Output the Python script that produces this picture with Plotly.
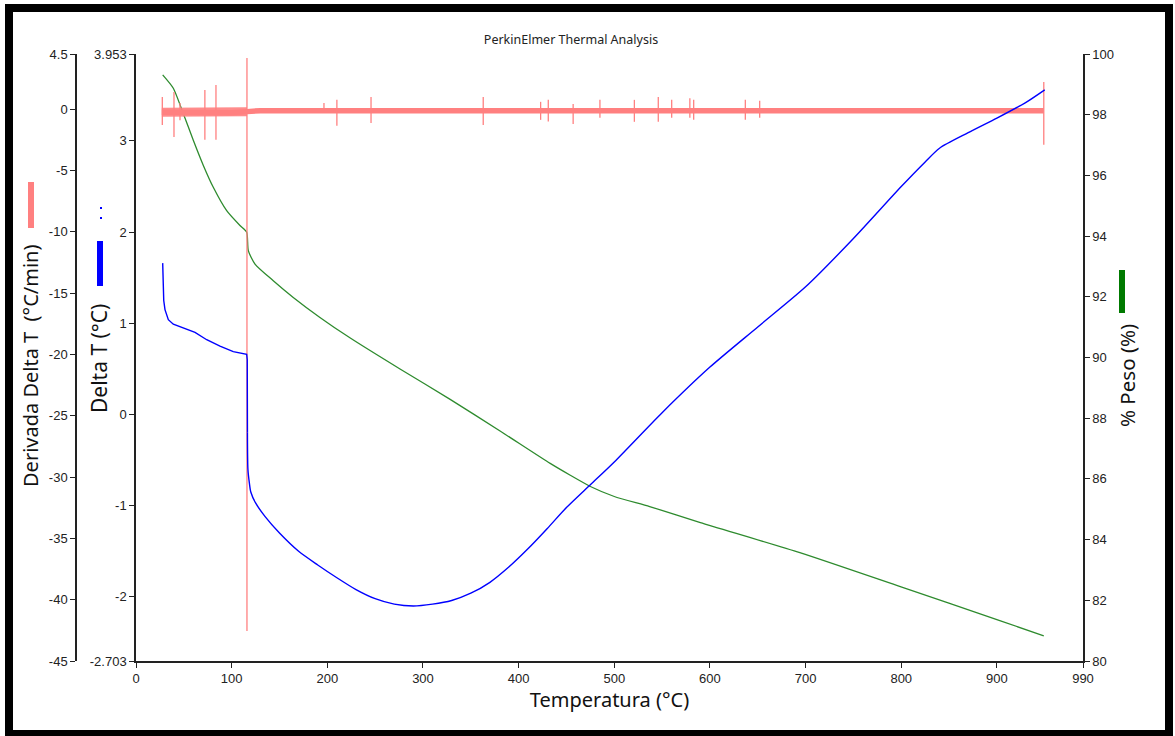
import plotly.graph_objects as go

# ---------------- data ----------------
# Delta T (°C) vs temperature
dt_temp = [27.9, 28.2, 29.0, 30.3, 33.8, 39.0, 49.4, 61.7, 73.9, 87.8, 101.7, 110.4, 115.7,
           116.3, 116.5, 117.0, 118.5, 120, 125, 135, 150, 170, 190, 210, 230, 250, 270,
           290, 310, 330, 350, 370, 390, 410, 430, 450, 475, 500, 550, 600, 650, 700,
           750, 800, 825, 840, 870, 900, 930, 950]
dt_val = [1.66, 1.40, 1.25, 1.15, 1.04, 0.99, 0.95, 0.90, 0.82, 0.75, 0.69, 0.67, 0.66,
          0.60, -0.20, -0.60, -0.75, -0.85, -0.97, -1.12, -1.30, -1.50, -1.65, -1.79, -1.92,
          -2.02, -2.08, -2.10, -2.08, -2.04, -1.96, -1.84, -1.67, -1.47, -1.25, -1.02,
          -0.77, -0.52, 0.02, 0.52, 0.96, 1.40, 1.93, 2.50, 2.77, 2.92, 3.09, 3.25, 3.42, 3.56]

# % Peso vs temperature
peso_temp = [27.9, 39.0, 49.4, 59.9, 70.4, 80.8, 94.8, 108.7, 115.7, 117.4, 124.4, 143.5,
             164.4, 192.3, 224, 276, 328, 381, 433, 454, 475, 500, 537, 590, 694, 799, 903,
             949]
peso_val = [99.31, 98.87, 98.04, 97.16, 96.33, 95.61, 94.84, 94.35, 94.13, 93.52, 93.08,
            92.53, 91.98, 91.32, 90.64, 89.62, 88.63, 87.57, 86.51, 86.12, 85.75, 85.42,
            85.09, 84.56, 83.57, 82.45, 81.33, 80.83]

# Derivada Delta T (°C/min): noisy baseline band + spikes
deriv_band_temp = [27, 60, 100, 116, 130, 949]
deriv_band_val = [-0.25, -0.30, -0.30, -0.20, -0.12, -0.12]
deriv_band_early_temp = [27, 60, 100, 116]
deriv_band_early_val = [-0.26, -0.30, -0.28, -0.20]

spike_temp = [27.5, 39.7, 46, 72, 83.6, 116, 196.5, 210, 245.7, 363, 423, 431, 457, 485,
              521, 546, 560, 579, 583, 637, 652, 949]
spike_hi = [1.0, 1.41, 0.5, 1.57, 1.98, 4.18, 0.5, 0.76, 1.0, 1.0, 0.6, 0.76, 0.43, 0.76,
            0.76, 1.0, 0.76, 0.9, 0.76, 0.76, 0.68, 2.22]
spike_lo = [-1.28, -2.26, -0.9, -2.5, -2.5, -42.55, -0.2, -1.36, -1.12, -1.28, -0.87, -1.0,
            -1.2, -0.7, -1.03, -1.03, -0.7, -0.7, -0.87, -0.87, -0.7, -2.9]

x_ticks = [0, 100, 200, 300, 400, 500, 600, 700, 800, 900, 990]
deriv_ticks = [4.5, 0, -5, -10, -15, -20, -25, -30, -35, -40, -45]
dt_ticks = [3.953, 3, 2, 1, 0, -1, -2, -2.703]
peso_ticks = [100, 98, 96, 94, 92, 90, 88, 86, 84, 82, 80]

# ---------------- figure ----------------
RED = "#FF8080"
BLUE = "#0000FF"
GREEN = "#2E8B2E"

fig = go.Figure()

fig.add_trace(go.Scatter(x=peso_temp, y=peso_val, mode="lines", yaxis="y",
                         line=dict(color=GREEN, width=1.3, shape="spline", smoothing=0.6),
                         name="% Peso"))

fig.add_trace(go.Scatter(x=deriv_band_early_temp, y=deriv_band_early_val, mode="lines",
                         yaxis="y2", line=dict(color=RED, width=9), opacity=0.9,
                         name="Derivada"))
fig.add_trace(go.Scatter(x=deriv_band_temp, y=deriv_band_val, mode="lines", yaxis="y2",
                         line=dict(color=RED, width=5.5), name="Derivada"))
sx, sy = [], []
for t, hi, lo in zip(spike_temp, spike_hi, spike_lo):
    sx += [t, t, None]
    sy += [hi, lo, None]
fig.add_trace(go.Scatter(x=sx, y=sy, mode="lines", yaxis="y2",
                         line=dict(color=RED, width=1.3), connectgaps=False, name="Derivada"))

# Delta T: the part before the step is drawn straight, the part after smoothed
split = dt_temp.index(116.5)
fig.add_trace(go.Scatter(x=dt_temp[:split + 1], y=dt_val[:split + 1], mode="lines",
                         yaxis="y3", line=dict(color=BLUE, width=1.4), name="Delta T"))
fig.add_trace(go.Scatter(x=dt_temp[split:], y=dt_val[split:], mode="lines", yaxis="y3",
                         line=dict(color=BLUE, width=1.4, shape="spline", smoothing=0.7),
                         name="Delta T"))

W, H = 1175, 736
ML, MR, MT, MB = 76, 92, 54, 75
PW, PH = W - ML - MR, H - MT - MB


def px(xp):
    return (xp - ML) / PW


def py(yp):
    return (H - MB - yp) / PH


tickfont = dict(family="Liberation Sans, Arial, sans-serif", size=13, color="#222222")
axline = dict(showline=True, linecolor="#222222", linewidth=1.5, ticks="outside",
              ticklen=5, tickcolor="#222222", showgrid=False, zeroline=False)
TFAM = "Noto Sans, Open Sans, sans-serif"

fig.update_layout(
    width=W, height=H, autosize=False,
    margin=dict(l=ML, r=MR, t=MT, b=MB, pad=0),
    paper_bgcolor="white", plot_bgcolor="white",
    showlegend=False,
    title=dict(text="PerkinElmer Thermal Analysis", x=571 / W, xref="container",
               y=1 - 40 / H, yref="container", xanchor="center", yanchor="middle",
               font=dict(family=TFAM, size=12.5, color="#222222")),
    xaxis=dict(domain=[px(136), 1], range=[0, 990], tickvals=x_ticks,
               ticktext=[str(v) for v in x_ticks], tickfont=tickfont,
               title=dict(text="Temperatura (°C)", standoff=4,
                          font=dict(family=TFAM, size=20, color="#111111")),
               **axline),
    yaxis=dict(range=[80, 100], side="right", anchor="x", tickvals=peso_ticks,
               ticktext=[str(v) for v in peso_ticks], tickfont=tickfont, **axline),
    yaxis2=dict(range=[-45, 4.5], side="left", anchor="free", position=0, overlaying="y",
                tickvals=deriv_ticks, ticktext=[f"{v:g}" for v in deriv_ticks],
                tickfont=tickfont, **axline),
    yaxis3=dict(range=[-2.703, 3.953], side="left", anchor="x", overlaying="y",
                tickvals=dt_ticks, ticktext=[f"{v:g}" for v in dt_ticks],
                tickfont=tickfont, **axline),
)


def ytitle(text, xp, yp, size):
    fig.add_annotation(text=text, x=px(xp), y=py(yp), xref="paper", yref="paper",
                       textangle=-90, showarrow=False,
                       font=dict(family=TFAM, size=size, color="#111111"),
                       xanchor="center", yanchor="middle")


ytitle("Derivada Delta T  (°C/min)", 30, 366, 20)
ytitle("Delta T (°C)", 99, 359, 21)
ytitle("% Peso (%)", 1127, 376, 20.5)


# colour keys next to axis titles
def key(x0, x1, y0, y1, color):
    fig.add_shape(type="rect", xref="paper", yref="paper", x0=px(x0), x1=px(x1),
                  y0=py(y1), y1=py(y0), fillcolor=color, line=dict(width=0), layer="above")


key(28, 34, 182, 228, RED)
key(97, 103, 241, 286, BLUE)
key(100, 102, 207, 209, BLUE)
key(100, 102, 217, 219, BLUE)
key(1119, 1125, 270, 313, "#007A00")

# black frame
fig.add_shape(type="rect", xref="paper", yref="paper", x0=px(9), x1=px(1169),
              y0=py(734), y1=py(8), line=dict(color="black", width=8),
              fillcolor="rgba(0,0,0,0)", layer="above")

fig.write_html("out.html", config={"displayModeBar": False},
               post_script="document.body.style.margin='0';document.body.style.overflow='hidden';")
